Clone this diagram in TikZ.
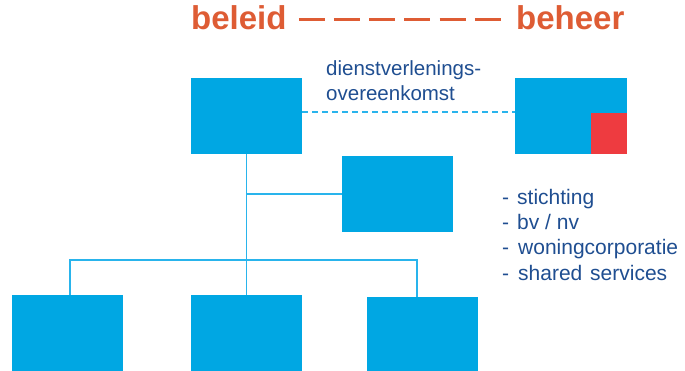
\documentclass[tikz,border=0pt]{standalone}
\usepackage{fontspec}
\setmainfont{Liberation Sans}
\definecolor{boxblue}{RGB}{0,167,227}
\definecolor{lineblue}{RGB}{41,180,236}
\definecolor{boxred}{RGB}{238,59,64}
\definecolor{titleorange}{RGB}{222,92,52}
\definecolor{navy}{RGB}{31,78,145}
\tikzset{
  orgbox/.style={fill=boxblue, draw=none, inner sep=0pt, anchor=north west},
  conn/.style={draw=lineblue, line width=1.5pt},
  titletext/.style={text=titleorange, font=\fontsize{33}{36}\selectfont\bfseries, inner sep=0pt, anchor=base west},
  bodytext/.style={text=navy, font=\fontsize{20.5}{25}\selectfont, inner sep=0pt, anchor=base west},
  listtext/.style={text=navy, font=\fontsize{21}{25}\selectfont, inner sep=0pt, anchor=base west}
}
\begin{document}
\begin{tikzpicture}[x=1pt,y=-1pt]
\useasboundingbox[fill=white] (0,0) rectangle (685,371);
% title
\node[titletext] (beleid) at (191,30) {beleid};
\node[titletext] (beheer) at (516,30) {beheer};
\draw[titleorange, line width=3pt, dash pattern=on 26pt off 9.2pt, shorten <=12pt, shorten >=13pt]
  (beleid.east |- 0,20) -- (beheer.west |- 0,20);
% boxes
\node[orgbox, minimum width=111pt, minimum height=76pt] (top) at (191,78) {};
\node[orgbox, minimum width=112pt, minimum height=76pt] (right) at (515,78) {};
\node[fill=boxred, inner sep=0pt, anchor=south east, minimum width=36pt, minimum height=41pt] (redsq) at (right.south east) {};
\node[orgbox, minimum width=111pt, minimum height=76pt] (mid) at (342,156) {};
\node[orgbox, minimum width=111pt, minimum height=76pt] (b1) at (12,295) {};
\node[orgbox, minimum width=111pt, minimum height=76pt] (b2) at (191,295) {};
\node[orgbox, minimum width=111pt, minimum height=74pt] (b3) at (367,297) {};
% connectors
\draw[conn] (top.south) -- (b2.north);
\draw[conn] (mid.west) -- (top.south |- mid.west);
\coordinate (bus) at (246.5,260);
\draw[conn] ([xshift=2.5pt]b1.north) |- (bus) -| ([xshift=-5.5pt]b3.north);
\draw[lineblue, line width=1.5pt, dash pattern=on 6pt off 4pt] (top.east |- 0,112) -- (right.west |- 0,112);
% labels
\node[bodytext, align=left, anchor=north west] (sla) at (326,60) {dienstverlenings-\\overeenkomst};
\node[listtext] (d1) at (502,205) {-};
\node[listtext] (l1) at (517,205) {stichting};
\node[listtext] (d2) at (502,230) {-};
\node[listtext] (l2) at (517,230) {bv / nv};
\node[listtext] (d3) at (502,255) {-};
\node[listtext] (l3) at (518,255) {woningcorporatie};
\node[listtext] (d4) at (502,280) {-};
\node[listtext] (l4) at (518,280) {shared\hspace{2pt} services};
\end{tikzpicture}
\end{document}
